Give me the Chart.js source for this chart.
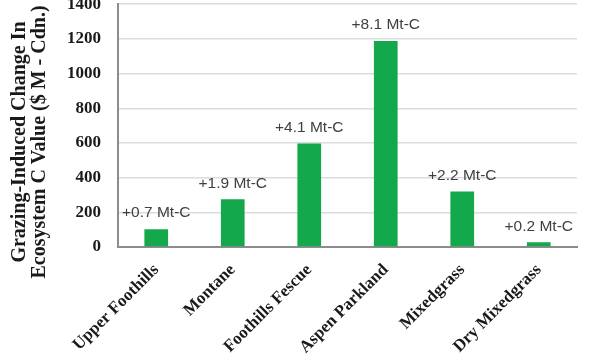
<!DOCTYPE html><html lang="en"><head><meta charset="utf-8">
<title>Grazing-Induced Change in Ecosystem C Value</title>
<script src="https://cdn.jsdelivr.net/npm/chart.js@4"></script>
<style>
html, body { margin: 0; padding: 0; background: #fff; overflow: hidden; }
#wrap { position: absolute; left: 0; top: -23px; width: 600px; height: 383px; }
</style>
</head><body>

<div id=wrap><canvas id=myChart></canvas></div>

<script>
const categories = ["Upper Foothills", "Montane", "Foothills Fescue", "Aspen Parkland", "Mixedgrass", "Dry Mixedgrass"];
const values = [103, 275, 597, 1188, 320, 27];
const carbonLabels = ["+0.7 Mt-C", "+1.9 Mt-C", "+4.1 Mt-C", "+8.1 Mt-C", "+2.2 Mt-C", "+0.2 Mt-C"];
const yTicks = [0, 200, 400, 600, 800, 1000, 1200, 1400];
const yTitle = ["Grazing-Induced Change In", "Ecosystem C Value ($ M - Cdn.)"];

const serif = "'Liberation Serif', 'Times New Roman', serif";

// labels over bars
const barLabels = {
  id: "barLabels",
  afterDatasetsDraw(chart) {
    const ctx = chart.ctx;
    const meta = chart.getDatasetMeta(0);
    ctx.save();
    ctx.font = "15.5px 'Liberation Sans', Arial, sans-serif";
    ctx.fillStyle = "#404040";
    ctx.textAlign = "center";
    ctx.textBaseline = "middle";
    meta.data.forEach((bar, i) => {
      ctx.fillText(carbonLabels[i], bar.x, bar.y - 16);
    });
    ctx.restore();
  }
};

// two line rotated axis title
const yAxisTitle = {
  id: "yAxisTitle",
  afterDraw(chart) {
    const ctx = chart.ctx;
    ctx.save();
    ctx.font = "bold 20px " + serif;
    ctx.fillStyle = "#1a1a1a";
    ctx.textAlign = "center";
    ctx.textBaseline = "middle";
    ctx.translate(0, 165);
    ctx.rotate(-Math.PI / 2);
    ctx.fillText(yTitle[0], 0, 20);
    ctx.fillText(yTitle[1], 0, 40);
    ctx.restore();
  }
};

const chart = new Chart(myChart, {
  type: "bar",
  data: {
    labels: categories,
    datasets: [{
      data: values,
      backgroundColor: "#13a84b",
      borderWidth: 0,
      barPercentage: 0.31,
      categoryPercentage: 1,
    }],
  },
  options: {
    responsive: true,
    maintainAspectRatio: false,
    animation: false,
    layout: { padding: { top: 6, right: 23, left: 0, bottom: 0 } },
    plugins: {
      legend: { display: false },
      tooltip: { enabled: false },
    },
    scales: {
      x: {
        afterFit: (s) => { s.height = 113; },
        grid: { display: false, drawTicks: false },
        border: { color: "#8c8c8c", width: 2 },
        ticks: {
          color: "#1a1a1a",
          font: { family: serif, size: 17, weight: "bold" },
          minRotation: 45,
          maxRotation: 45,
          padding: 13,
        },
      },
      y: {
        min: 0,
        max: 1400,
        afterFit: (s) => { s.width = 118; },
        afterBuildTicks: (s) => { s.ticks = yTicks.map(v => ({ value: v })); },
        grid: { color: "#dcdcdc", lineWidth: 1.5, drawTicks: false },
        border: { color: "#8c8c8c", width: 2 },
        ticks: {
          color: "#1a1a1a",
          font: { family: serif, size: 17, weight: "bold" },
          padding: 17,
          callback: (v) => String(v),
        },
      },
    },
  },
  plugins: [barLabels, yAxisTitle],
});
</script>

</body>
</html>
